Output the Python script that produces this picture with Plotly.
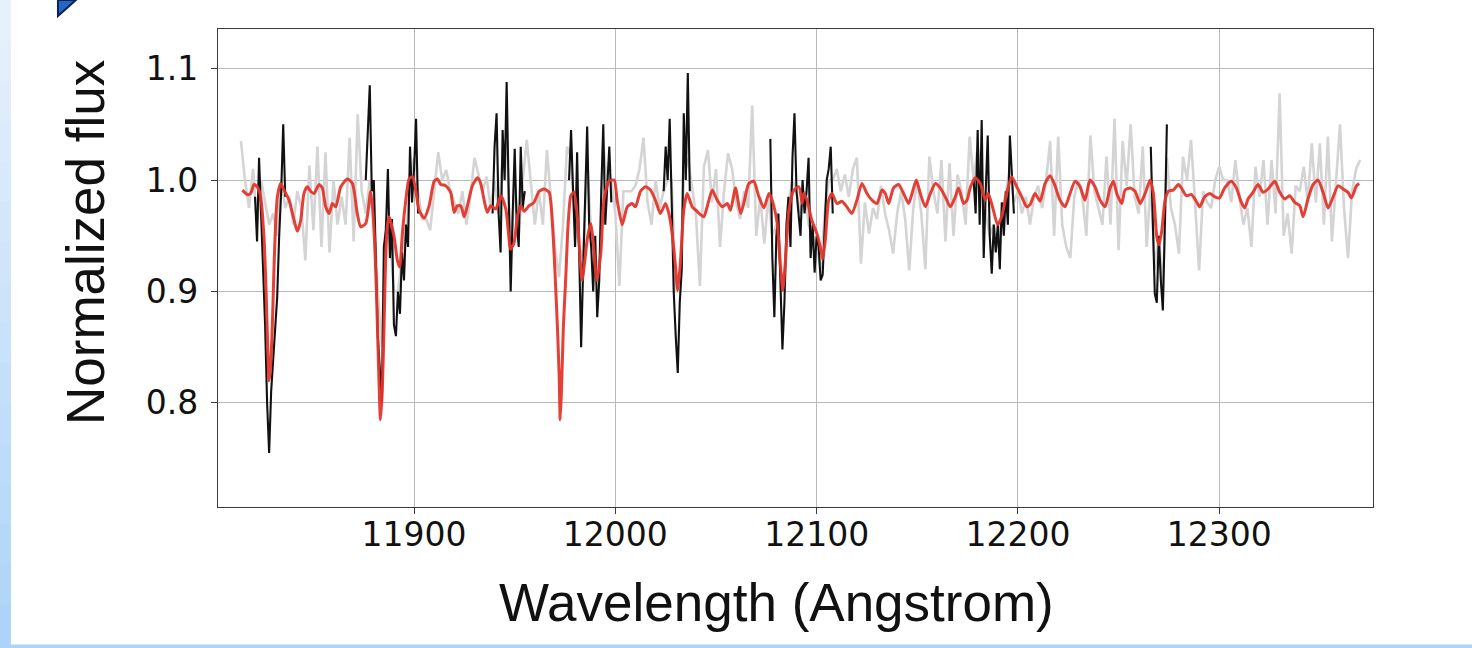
import numpy as np
import plotly.graph_objects as go

# ---------------- data ----------------
# observed spectrum (grey), 2 Angstrom sampling starting at 11814
obs_start = 11814
obs_step = 2
obs_flux = [
    1.035, 1.0, 0.975, 1.01, 0.96, 1.0, 0.98, 0.96, 0.97, 0.95, 1.0, 0.975, 0.985, 0.96, 0.99, 0.975,
    0.928, 1.013, 0.955, 1.03, 0.94, 1.025, 0.935, 1.0, 0.96, 0.985, 0.96, 1.038, 0.945, 1.059, 0.99, 0.97,
    1.0, 0.97, 0.9, 0.85, 0.96, 0.95, 0.9, 0.9, 0.93, 0.95, 1.0, 1.02,
    0.99, 0.965, 0.965, 0.955, 0.99, 1.025, 1.0, 1.009, 0.99, 0.98, 0.97, 0.99, 0.96, 0.985, 1.02, 1.005,
    0.99, 1.003, 0.975, 1.0, 0.97, 1.02, 1.04, 0.93, 1.0, 0.95, 1.0, 1.036, 1.0, 0.96, 0.99, 0.96,
    1.027, 0.985, 0.94, 0.913, 0.96, 1.03, 1.02, 0.96, 0.94, 0.93, 1.02, 0.95, 0.93, 0.92, 1.03, 1.0, 1.0,
    0.97, 0.905, 0.99, 0.99, 0.99, 0.995, 1.01, 1.038, 0.98, 0.96, 1.0, 0.975, 0.99, 1.0, 1.0, 0.9,
    0.9, 1.0, 1.02, 0.995, 0.97, 0.905, 1.012, 1.027, 0.98, 1.01, 0.94, 0.99, 1.024, 1.01, 0.98, 0.965,
    0.99, 0.975, 1.067, 0.95, 0.985, 0.943, 0.985, 0.95, 0.96, 0.92, 0.9, 0.98, 1.0, 0.99, 0.97, 0.99,
    0.96, 0.95,
    0.94, 0.92, 0.97, 1.0, 1.0, 1.01, 0.99, 1.005, 0.985, 1.01, 1.02, 0.925, 0.98, 0.952, 0.975, 0.965,
    0.995, 0.97, 0.955, 0.934, 0.97, 0.99, 0.965, 0.919, 0.975, 1.0, 0.97, 0.92, 1.021, 0.99, 0.97, 1.018,
    0.945, 1.015, 0.95, 1.005, 0.99, 0.96, 1.039, 1.0, 1.03, 1.0, 0.97, 0.95, 0.96, 0.94, 0.97, 0.99,
    1.01, 0.98,
    0.99, 0.97, 0.985, 0.96, 0.985, 0.995, 0.975, 1.0, 1.035, 0.95, 1.039, 0.96, 0.94, 0.93, 0.985, 1.0,
    0.985, 0.95, 1.04, 0.99, 0.975, 0.96, 1.021, 0.96, 1.055, 0.937, 1.035, 0.995, 1.05, 0.985, 0.97, 1.03,
    0.94, 1.0, 0.92, 0.95, 0.9, 1.02, 0.975, 0.96, 0.934, 1.021, 1.0, 1.036, 0.98, 0.919, 0.99, 0.98,
    0.975, 1.0,
    1.012, 1.0, 1.0, 0.98, 1.018, 0.985, 0.96, 0.975, 0.94, 1.012, 0.985, 1.018, 0.96, 1.018, 0.97, 1.078,
    0.95, 0.97, 0.934, 0.995, 0.99, 1.012, 0.98, 1.033, 0.98, 1.033, 0.96, 1.039, 0.945, 1.0, 1.05, 0.975,
    0.93, 0.99, 1.01, 1.018,
]

# line regions of the observed spectrum (black), 1 Angstrom sampling
line_starts = [11821, 11876, 11939, 11977, 12024, 12077, 12178, 12266]
line_1 = [0.985, 0.945, 1.02, 0.975, 0.93, 0.87, 0.8, 0.755, 0.81, 0.84, 0.87, 0.895, 0.95, 0.99, 1.05, 0.985]
line_2 = [1.0, 1.04, 1.085, 0.99, 1.0, 0.93, 0.86, 0.83, 0.8, 0.94, 0.955, 1.01, 0.93, 0.965, 0.87, 0.86,
          0.9, 0.88, 0.935, 0.91, 0.96, 0.94, 1.03, 0.98, 1.01, 1.055, 0.97]
line_3 = [0.97, 1.03, 1.06, 0.97, 0.935, 1.045, 1.0, 1.088, 0.99, 0.9, 0.97, 1.028, 0.96, 0.94, 1.03, 0.975, 0.99]
line_4 = [1.0, 1.045, 0.99, 0.94, 1.025, 0.93, 0.85, 0.92, 0.98, 1.048, 0.96, 0.94, 0.9, 0.95, 0.877, 0.91,
          0.99, 1.05, 0.96, 0.99, 1.03, 0.98]
line_5 = [0.99, 1.03, 1.0, 1.055, 0.98, 0.9, 0.86, 0.827, 0.89, 0.92, 1.06, 1.0, 1.096, 0.99]
line_6 = [1.037, 0.93, 0.877, 0.95, 0.97, 0.91, 0.848, 0.89, 0.96, 0.985, 0.94, 1.02, 1.06, 0.99, 0.97, 0.95,
          1.0, 0.97, 0.99, 1.02, 0.93, 0.96, 0.917, 0.95, 0.94, 0.91, 0.915, 0.96, 1.0, 1.01, 1.03, 0.97]
line_7 = [1.0, 0.97, 1.045, 0.96, 1.054, 0.93, 0.99, 1.04, 0.95, 0.916, 0.96, 0.935, 0.96, 0.92, 0.98, 0.95,
          0.99, 0.96, 1.04, 1.0, 0.97]
line_8 = [1.03, 0.96, 0.898, 0.89, 0.95, 0.91, 0.883, 0.96, 1.05]
line_segments = [line_1, line_2, line_3, line_4, line_5, line_6, line_7, line_8]

# synthetic model spectrum (red): (wavelength, flux)
model = [
    (11814.7, 0.991), (11817.2, 0.987), (11818.8, 0.988), (11820.5, 0.996), (11822.1, 0.994), (11823.8, 0.985),
    (11825.4, 0.95), (11826.5, 0.9), (11827.3, 0.85), (11828.0, 0.82), (11828.8, 0.835), (11829.6, 0.87),
    (11830.4, 0.92), (11831.2, 0.96), (11832.1, 0.985), (11833.7, 0.997), (11835.4, 0.991), (11837.9, 0.982),
    (11840.4, 0.964), (11842.0, 0.954), (11843.7, 0.964), (11845.3, 0.988), (11847.0, 0.994), (11848.6, 0.99),
    (11850.3, 0.988), (11852.8, 0.996), (11854.4, 0.993), (11856.1, 0.976), (11857.8, 0.97), (11859.4, 0.979),
    (11861.1, 0.976), (11863.6, 0.994), (11866.9, 1.001), (11869.4, 0.997), (11871.8, 0.97), (11873.5, 0.958),
    (11876.0, 0.961), (11878.5, 0.99), (11880.1, 0.955), (11881.3, 0.9), (11882.4, 0.83), (11883.3, 0.785),
    (11884.2, 0.81), (11885.1, 0.87), (11885.9, 0.93), (11886.7, 0.958), (11887.6, 0.967), (11890.1, 0.949),
    (11891.7, 0.928), (11892.9, 0.922), (11894.2, 0.952), (11895.9, 0.982), (11897.5, 1.001), (11899.2, 1.003),
    (11900.8, 0.991), (11902.5, 0.973), (11905.0, 0.966), (11907.5, 0.977), (11910.0, 0.999), (11911.6, 1.001),
    (11913.3, 0.996), (11915.7, 0.995), (11918.2, 0.989), (11919.9, 0.971), (11921.5, 0.977), (11923.2, 0.977),
    (11924.9, 0.967), (11926.5, 0.977), (11929.0, 0.995), (11931.5, 1.002), (11933.1, 0.997), (11934.8, 0.982),
    (11936.4, 0.971), (11938.1, 0.977), (11940.6, 0.974), (11943.1, 0.986), (11945.6, 0.974), (11948.0, 0.938),
    (11949.7, 0.944), (11951.4, 0.968), (11953.0, 0.977), (11954.7, 0.972), (11957.2, 0.977), (11959.6, 0.98),
    (11962.1, 0.99), (11964.6, 0.992), (11967.1, 0.989), (11968.8, 0.959), (11970.1, 0.914), (11971.2, 0.869),
    (11972.1, 0.824), (11972.6, 0.785), (11973.2, 0.809), (11974.2, 0.869), (11975.4, 0.914), (11976.5, 0.959),
    (11977.9, 0.986), (11979.5, 0.989), (11981.2, 0.965), (11983.5, 0.91), (11986.2, 0.949), (11987.8, 0.961),
    (11989.0, 0.945), (11990.8, 0.91), (11992.8, 0.935), (11994.4, 0.983), (11996.9, 0.999), (11999.4, 1.0),
    (12000.9, 0.982), (12003.4, 0.96), (12005.9, 0.976), (12008.3, 0.979), (12010.0, 0.976), (12012.5, 0.99),
    (12015.0, 0.994), (12017.5, 0.991), (12019.9, 0.982), (12022.4, 0.97), (12024.9, 0.979), (12026.6, 0.97),
    (12028.2, 0.952), (12029.9, 0.922), (12031.0, 0.901), (12032.4, 0.928), (12034.0, 0.973), (12035.7, 0.988),
    (12038.2, 0.976), (12040.6, 0.972), (12042.3, 0.969), (12044.0, 0.967), (12045.6, 0.976), (12048.1, 0.991),
    (12050.6, 0.982), (12053.1, 0.976), (12055.6, 0.979), (12057.2, 0.973), (12059.7, 0.993), (12062.2, 0.97),
    (12063.8, 0.979), (12066.3, 0.997), (12068.8, 0.999), (12071.3, 0.985), (12073.8, 0.975), (12076.3, 0.988),
    (12077.9, 0.982), (12080.4, 0.961), (12082.1, 0.922), (12083.2, 0.901), (12084.5, 0.928), (12086.2, 0.973),
    (12088.7, 0.991), (12091.2, 0.994), (12092.8, 0.979), (12093.5, 0.988), (12095.2, 0.982), (12097.6, 0.964),
    (12100.1, 0.952), (12101.8, 0.94), (12103.0, 0.929), (12104.3, 0.946), (12106.0, 0.982), (12107.6, 0.988),
    (12110.1, 0.979), (12112.6, 0.981), (12115.0, 0.976), (12117.5, 0.97), (12120.0, 0.982), (12122.5, 0.997),
    (12125.0, 0.988), (12127.5, 0.982), (12130.0, 0.979), (12132.4, 0.991), (12134.1, 0.988), (12135.8, 0.979),
    (12138.2, 0.993), (12140.7, 0.996), (12143.2, 0.988), (12145.7, 0.979), (12147.4, 0.988), (12149.5, 1.0),
    (12151.5, 0.988), (12154.0, 0.976), (12156.5, 0.988), (12159.0, 0.997), (12161.4, 0.993), (12163.9, 0.985),
    (12166.4, 0.976), (12168.9, 0.985), (12170.5, 0.993), (12173.0, 0.979), (12174.7, 0.982), (12176.3, 0.993),
    (12178.8, 1.002), (12181.3, 0.997), (12183.8, 0.982), (12185.3, 0.988), (12187.8, 0.973), (12189.9, 0.96),
    (12191.9, 0.967), (12194.4, 0.988), (12196.9, 1.003), (12199.4, 0.994), (12201.9, 0.985), (12204.4, 0.976),
    (12206.0, 0.978), (12208.5, 0.988), (12211.0, 0.981), (12213.5, 0.997), (12216.0, 1.004), (12218.4, 0.995),
    (12220.9, 0.982), (12223.4, 0.976), (12225.9, 0.988), (12228.4, 0.999), (12230.9, 0.994), (12233.3, 0.982),
    (12235.8, 1.0), (12238.3, 0.994), (12240.8, 0.982), (12243.3, 0.976), (12245.8, 0.993), (12247.4, 0.999),
    (12249.1, 0.988), (12251.6, 0.979), (12253.2, 0.991), (12255.7, 0.993), (12258.2, 0.99), (12260.7, 0.979),
    (12263.2, 0.988), (12265.7, 1.0), (12267.3, 0.988), (12269.0, 0.949), (12270.1, 0.942), (12271.5, 0.955),
    (12273.1, 0.982), (12274.8, 0.99), (12277.2, 0.991), (12279.7, 0.996), (12281.2, 0.993), (12283.7, 0.986),
    (12286.2, 0.987), (12288.6, 0.981), (12290.3, 0.976), (12292.8, 0.985), (12295.3, 0.988), (12297.8, 0.985),
    (12300.2, 0.984), (12302.7, 0.993), (12306.0, 0.999), (12308.5, 0.993), (12311.0, 0.98), (12312.7, 0.975),
    (12314.3, 0.983), (12316.8, 0.989), (12319.3, 0.996), (12321.8, 0.989), (12324.3, 0.992), (12327.6, 0.999),
    (12330.1, 0.989), (12332.5, 0.983), (12335.0, 0.986), (12337.5, 0.98), (12340.0, 0.977), (12341.7, 0.967),
    (12344.1, 0.983), (12346.6, 0.996), (12349.1, 1.0), (12351.6, 0.989), (12354.1, 0.975), (12356.6, 0.985),
    (12359.1, 0.995), (12361.5, 0.992), (12364.0, 0.989), (12365.7, 0.984), (12368.2, 0.995), (12369.5, 0.997),
]

x_ticks = [11900, 12000, 12100, 12200, 12300]
y_ticks = [0.8, 0.9, 1.0, 1.1]
x_range = [11802.6, 12376.4]
y_range = [0.7066, 1.1356]

# ---------------- build traces ----------------
obs_wave = [obs_start + obs_step * i for i in range(len(obs_flux))]

line_x, line_y = [], []
for start, seg in zip(line_starts, line_segments):
    line_x += [start + i for i in range(len(seg))] + [None]
    line_y += list(seg) + [None]

model_x = [p[0] for p in model]
model_y = [p[1] for p in model]

fig = go.Figure()
fig.add_trace(go.Scatter(x=obs_wave, y=obs_flux, mode="lines",
                         line=dict(color="#d4d4d4", width=2.6), hoverinfo="skip", showlegend=False))
fig.add_trace(go.Scatter(x=line_x, y=line_y, mode="lines", connectgaps=False,
                         line=dict(color="#111111", width=2.1), showlegend=False))
fig.add_trace(go.Scatter(x=model_x, y=model_y, mode="lines",
                         line=dict(color="#e3362c", width=3.0, shape="spline", smoothing=0.6),
                         opacity=0.95, showlegend=False))

# ---------------- layout ----------------
W, H = 1472, 648
L, R, T, B = 218, 1372.7, 29, 507   # plot-area pixel box


def px_x(px):
    return (px - L) / (R - L)


def px_y(py):
    return (B - py) / (B - T)


shapes = []
# light-blue slide border on the left (gradient approximated by bands)
n_bands = 16
top_c = np.array([233, 242, 252])
bot_c = np.array([172, 212, 248])
for i in range(n_bands):
    y0 = i * 645 / n_bands
    y1 = (i + 1) * 645 / n_bands
    c = top_c + (bot_c - top_c) * (i + 0.5) / n_bands
    shapes.append(dict(type="rect", xref="paper", yref="paper",
                       x0=px_x(0), x1=px_x(11), y0=px_y(y1 + 0.5), y1=px_y(y0),
                       fillcolor="rgb(%d,%d,%d)" % tuple(c.astype(int)), line=dict(width=0),
                       layer="below"))
# bottom strip
shapes.append(dict(type="rect", xref="paper", yref="paper",
                   x0=px_x(0), x1=px_x(W), y0=px_y(H), y1=px_y(644.5),
                   fillcolor="rgb(172,212,248)", line=dict(width=0), layer="below"))
# small blue corner triangle
tri = "M %f %f L %f %f L %f %f Z" % (px_x(58), px_y(0), px_x(76), px_y(0), px_x(58), px_y(16))
shapes.append(dict(type="path", xref="paper", yref="paper", path=tri,
                   fillcolor="#2366c4", line=dict(color="#0b2350", width=2)))

axis_common = dict(showgrid=True, gridcolor="#b9b9b9", gridwidth=1,
                   showline=True, linecolor="#3a3a3a", linewidth=1.3, mirror=True,
                   ticks="outside", ticklen=6, tickcolor="#3a3a3a", tickwidth=1.2,
                   zeroline=False,
                   tickfont=dict(family="DejaVu Sans", size=33, color="#111111"))

fig.update_layout(
    width=W, height=H,
    margin=dict(l=L, r=W - R, t=T, b=H - B),
    paper_bgcolor="white", plot_bgcolor="white",
    xaxis=dict(range=x_range, tickvals=x_ticks, ticktext=[str(v) for v in x_ticks],
               ticklabelstandoff=-8, **axis_common),
    yaxis=dict(range=y_range, tickvals=y_ticks, ticktext=["%.1f" % v for v in y_ticks],
               ticklabelstandoff=6, **axis_common),
    shapes=shapes,
    annotations=[
        dict(text="Wavelength (Angstrom)", xref="paper", yref="paper",
             x=px_x(776), y=px_y(602), xanchor="center", yanchor="middle", showarrow=False,
             font=dict(family="Liberation Sans", size=53, color="#111111")),
        dict(text="Normalized flux", xref="paper", yref="paper",
             x=px_x(85), y=px_y(242), xanchor="center", yanchor="middle", showarrow=False,
             textangle=-90, font=dict(family="Liberation Sans", size=53, color="#111111")),
    ],
)

fig.write_html("out.html", config={"displayModeBar": False},
               post_script="document.body.style.margin='0';document.body.style.overflow='hidden';")
